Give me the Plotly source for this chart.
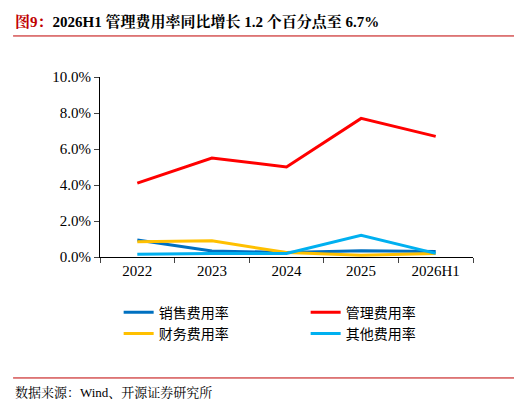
import plotly.graph_objects as go

years = ["2022", "2023", "2024", "2025", "2026H1"]
sales = [0.95, 0.33, 0.25, 0.35, 0.3]
mgmt = [4.1, 5.5, 5.0, 7.7, 6.7]
fin = [0.85, 0.9, 0.25, 0.1, 0.2]
other = [0.15, 0.2, 0.2, 1.2, 0.2]

series = [
    ("销售费用率", sales, "#0070C0"),
    ("管理费用率", mgmt, "#FF0000"),
    ("财务费用率", fin, "#FFC000"),
    ("其他费用率", other, "#00B0F0"),
]

fig = go.Figure()
for name, vals, color in series:
    fig.add_trace(go.Scatter(x=years, y=[v / 100 for v in vals], name=name, mode="lines",
                             line=dict(color=color, width=3)))

serif = "Times New Roman, Liberation Serif, Noto Serif CJK SC, serif"
fig.update_layout(
    width=522, height=406,
    margin=dict(l=92, r=57, t=69, b=157),
    plot_bgcolor="white", paper_bgcolor="white",
    font=dict(family=serif, size=15, color="black"),
    showlegend=True,
    legend=dict(orientation="h", x=0.05, xanchor="left", y=-0.22, yanchor="top",
                entrywidth=142, font=dict(size=14, family="Noto Sans CJK SC")),
    xaxis=dict(range=[-0.5, 4.5], showline=True, linecolor="black", linewidth=1, ticks="outside",
               tickson="boundaries", ticklen=5, showgrid=False),
    yaxis=dict(range=[0, 0.1], dtick=0.02, tickformat=".1%", showline=True, linecolor="black",
               ticks="outside", ticklen=5, showgrid=False, zeroline=False),
    shapes=[
        dict(type="line", xref="paper", yref="paper", x0=-0.233, x1=1.14, y0=1.228, y1=1.228,
             line=dict(color="#C00000", width=1)),
        dict(type="line", xref="paper", yref="paper", x0=-0.233, x1=1.14, y0=-0.672, y1=-0.672,
             line=dict(color="#C00000", width=1)),
    ],
    annotations=[
        dict(xref="paper", yref="paper", x=-0.233, y=1.31, xanchor="left", yanchor="middle",
             showarrow=False,
             text="<b><span style='color:#C00000'>图9：</span>2026H1 管理费用率同比增长 1.2 个百分点至 6.7%</b>",
             font=dict(size=15, family=serif)),
        dict(xref="paper", yref="paper", x=-0.233, y=-0.75, xanchor="left", yanchor="middle",
             showarrow=False, text="数据来源：Wind、开源证券研究所",
             font=dict(size=13, family=serif)),
    ],
)
fig.write_html("out.html")
